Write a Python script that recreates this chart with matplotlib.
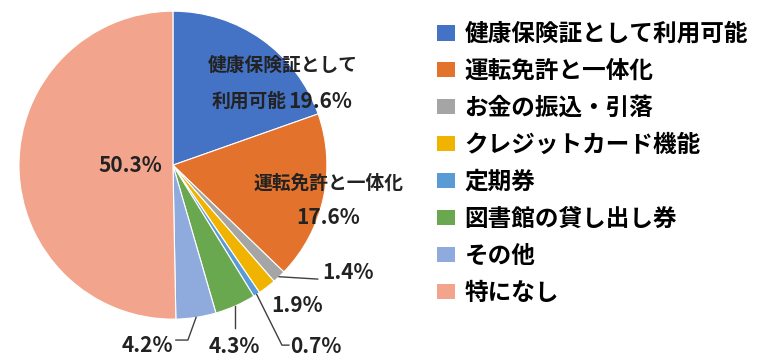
import matplotlib
matplotlib.use('Agg')
import matplotlib.pyplot as plt
from matplotlib.patches import Patch
import numpy as np

plt.rcParams['font.family'] = ['Noto Sans CJK JP', 'DejaVu Sans']

categories = ['健康保険証として利用可能', '運転免許と一体化', 'お金の振込・引落',
              'クレジットカード機能', '定期券', '図書館の貸し出し券', 'その他', '特になし']
values = [19.6, 17.6, 1.4, 1.9, 0.7, 4.3, 4.2, 50.3]
colors = ['#4472C4', '#E2722C', '#A5A5A5', '#F0B400', '#5B9BD5', '#6AA84F', '#8FAADC', '#F2A58C']

fig = plt.figure(figsize=(7.68, 3.61), dpi=100)
ax = fig.add_axes([0.0247, 0.116, 0.401, 0.853])

wedges, _ = ax.pie(values, colors=colors, startangle=90, counterclock=False,
                   wedgeprops=dict(edgecolor='white', linewidth=0.8))
ax.set_xlim(-1, 1)
ax.set_ylim(-1, 1)
ax.set_aspect('equal')

cjk = ['Noto Sans CJK JP', 'DejaVu Sans']
pct_kw = dict(fontsize=15, fontweight='bold', family=cjk, color='#222222')
txt_kw = dict(fontsize=13.5, fontweight='bold', family=cjk, color='#222222')

# mid angle of each wedge, measured clockwise from the top
cum = np.cumsum(values) - np.array(values) / 2
mid = np.deg2rad(cum / sum(values) * 360)
edge = [(np.sin(a), np.cos(a)) for a in mid]

# labels inside the big slices
ax.text(0.714, 0.649, '健康保険証として', ha='center', va='center', **txt_kw)
ax.text(0.74, 0.416, '利用可能', ha='right', va='center', **txt_kw)
ax.text(0.75, 0.416, f'{values[0]}%', ha='left', va='center', **pct_kw)
ax.text(1.01, -0.117, '運転免許と一体化', ha='center', va='center', **txt_kw)
ax.text(1.006, -0.338, f'{values[1]}%', ha='center', va='center', **pct_kw)
ax.text(-0.279, 0.0, f'{values[7]}%', ha='center', va='center', **pct_kw)

# small slices with leader lines
line_kw = dict(color='#404040', linewidth=1.0, clip_on=False)

x0, y0 = edge[2]
ax.plot([x0, 0.94], [y0, -0.74], **line_kw)
ax.text(0.968, -0.695, f'{values[2]}%', ha='left', va='center', **pct_kw)

ax.text(0.805, -0.909, f'{values[3]}%', ha='center', va='center', **pct_kw)

x0, y0 = edge[4]
ax.plot([x0, 0.708, 0.753], [y0, -1.169, -1.169], **line_kw)
ax.text(0.76, -1.175, f'{values[4]}%', ha='left', va='center', **pct_kw)

x0, y0 = edge[5]
ax.plot([x0, x0], [y0, -1.058], **line_kw)
ax.text(0.396, -1.18, f'{values[5]}%', ha='center', va='center', **pct_kw)

x0, y0 = edge[6]
ax.plot([x0, 0.097, 0.019], [y0, -1.136, -1.136], **line_kw)
ax.text(0.0, -1.169, f'{values[6]}%', ha='right', va='center', **pct_kw)

handles = [Patch(facecolor=c, edgecolor='none') for c in colors]
fig.legend(handles, categories, loc='upper left', bbox_to_anchor=(437 / 768, 1 - 22 / 361),
           frameon=False, prop=dict(family=cjk, size=17, weight='bold'),
           handlelength=0.75, handleheight=0.64, handletextpad=0.42,
           labelspacing=0.55, borderpad=0, borderaxespad=0)

fig.savefig('out.png', dpi=100)
